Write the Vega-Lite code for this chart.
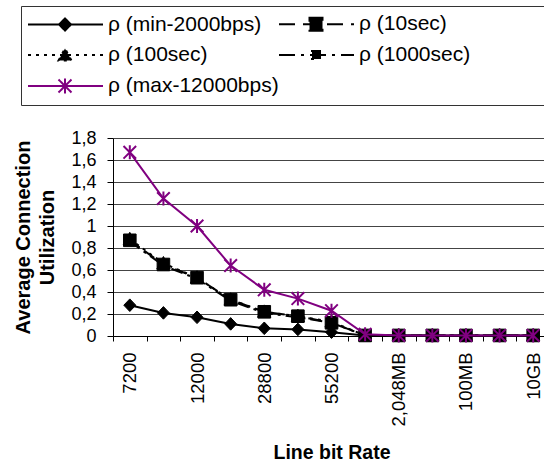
{
  "$schema": "https://vega.github.io/schema/vega-lite/v6.json",
  "autosize": {"type": "none"},
  "width": 431,
  "height": 198,
  "padding": {"left": 113, "top": 138, "right": 0, "bottom": 128},
  "background": "white",
  "config": {
    "font": "Liberation Sans",
    "view": {"stroke": null},
    "axis": {"labelFont": "Liberation Sans", "titleFont": "Liberation Sans", "labelColor": "black", "titleColor": "black", "domainColor": "black", "tickColor": "black"},
    "legend": {
      "labelFont": "Liberation Sans", "orient": "none", "legendX": -92, "legendY": -132, "columns": 2, "columnPadding": -6, "rowPadding": 9,
      "padding": 7, "strokeColor": "#333", "labelFontSize": 21, "labelColor": "black", "labelLimit": 400, "labelOffset": 58,
      "symbolSize": 400, "symbolStrokeWidth": 2, "symbolOpacity": 1
    }
  },
  "data": {
    "values": [
      {"rate": "7200", "series": "ρ (min-2000bps)", "value": 0.28},
      {"rate": "9600", "series": "ρ (min-2000bps)", "value": 0.21},
      {"rate": "12000", "series": "ρ (min-2000bps)", "value": 0.17},
      {"rate": "14400", "series": "ρ (min-2000bps)", "value": 0.11},
      {"rate": "28800", "series": "ρ (min-2000bps)", "value": 0.07},
      {"rate": "33600", "series": "ρ (min-2000bps)", "value": 0.06},
      {"rate": "55200", "series": "ρ (min-2000bps)", "value": 0.035},
      {"rate": "1,544MB", "series": "ρ (min-2000bps)", "value": 0.005},
      {"rate": "2,048MB", "series": "ρ (min-2000bps)", "value": 0.005},
      {"rate": "10MB", "series": "ρ (min-2000bps)", "value": 0.005},
      {"rate": "100MB", "series": "ρ (min-2000bps)", "value": 0.005},
      {"rate": "1GB", "series": "ρ (min-2000bps)", "value": 0.005},
      {"rate": "10GB", "series": "ρ (min-2000bps)", "value": 0.005},
      {"rate": "7200", "series": "ρ (10sec)", "value": 0.87},
      {"rate": "9600", "series": "ρ (10sec)", "value": 0.65},
      {"rate": "12000", "series": "ρ (10sec)", "value": 0.53},
      {"rate": "14400", "series": "ρ (10sec)", "value": 0.33},
      {"rate": "28800", "series": "ρ (10sec)", "value": 0.22},
      {"rate": "33600", "series": "ρ (10sec)", "value": 0.18},
      {"rate": "55200", "series": "ρ (10sec)", "value": 0.12},
      {"rate": "1,544MB", "series": "ρ (10sec)", "value": 0.005},
      {"rate": "2,048MB", "series": "ρ (10sec)", "value": 0.005},
      {"rate": "10MB", "series": "ρ (10sec)", "value": 0.005},
      {"rate": "100MB", "series": "ρ (10sec)", "value": 0.005},
      {"rate": "1GB", "series": "ρ (10sec)", "value": 0.005},
      {"rate": "10GB", "series": "ρ (10sec)", "value": 0.005},
      {"rate": "7200", "series": "ρ (100sec)", "value": 0.88},
      {"rate": "9600", "series": "ρ (100sec)", "value": 0.66},
      {"rate": "12000", "series": "ρ (100sec)", "value": 0.53},
      {"rate": "14400", "series": "ρ (100sec)", "value": 0.33},
      {"rate": "28800", "series": "ρ (100sec)", "value": 0.22},
      {"rate": "33600", "series": "ρ (100sec)", "value": 0.18},
      {"rate": "55200", "series": "ρ (100sec)", "value": 0.13},
      {"rate": "1,544MB", "series": "ρ (100sec)", "value": 0.005},
      {"rate": "2,048MB", "series": "ρ (100sec)", "value": 0.005},
      {"rate": "10MB", "series": "ρ (100sec)", "value": 0.005},
      {"rate": "100MB", "series": "ρ (100sec)", "value": 0.005},
      {"rate": "1GB", "series": "ρ (100sec)", "value": 0.005},
      {"rate": "10GB", "series": "ρ (100sec)", "value": 0.005},
      {"rate": "7200", "series": "ρ (1000sec)", "value": 0.86},
      {"rate": "9600", "series": "ρ (1000sec)", "value": 0.64},
      {"rate": "12000", "series": "ρ (1000sec)", "value": 0.52},
      {"rate": "14400", "series": "ρ (1000sec)", "value": 0.32},
      {"rate": "28800", "series": "ρ (1000sec)", "value": 0.21},
      {"rate": "33600", "series": "ρ (1000sec)", "value": 0.17},
      {"rate": "55200", "series": "ρ (1000sec)", "value": 0.12},
      {"rate": "1,544MB", "series": "ρ (1000sec)", "value": 0.005},
      {"rate": "2,048MB", "series": "ρ (1000sec)", "value": 0.005},
      {"rate": "10MB", "series": "ρ (1000sec)", "value": 0.005},
      {"rate": "100MB", "series": "ρ (1000sec)", "value": 0.005},
      {"rate": "1GB", "series": "ρ (1000sec)", "value": 0.005},
      {"rate": "10GB", "series": "ρ (1000sec)", "value": 0.005},
      {"rate": "7200", "series": "ρ (max-12000bps)", "value": 1.67},
      {"rate": "9600", "series": "ρ (max-12000bps)", "value": 1.25},
      {"rate": "12000", "series": "ρ (max-12000bps)", "value": 1.0},
      {"rate": "14400", "series": "ρ (max-12000bps)", "value": 0.64},
      {"rate": "28800", "series": "ρ (max-12000bps)", "value": 0.42},
      {"rate": "33600", "series": "ρ (max-12000bps)", "value": 0.34},
      {"rate": "55200", "series": "ρ (max-12000bps)", "value": 0.23},
      {"rate": "1,544MB", "series": "ρ (max-12000bps)", "value": 0.015},
      {"rate": "2,048MB", "series": "ρ (max-12000bps)", "value": 0.005},
      {"rate": "10MB", "series": "ρ (max-12000bps)", "value": 0.005},
      {"rate": "100MB", "series": "ρ (max-12000bps)", "value": 0.005},
      {"rate": "1GB", "series": "ρ (max-12000bps)", "value": 0.005},
      {"rate": "10GB", "series": "ρ (max-12000bps)", "value": 0.005}
    ]
  },
  "encoding": {
    "x": {
      "field": "rate", "type": "nominal", "bandPosition": 0.5,
      "scale": {"type": "band", "domain": ["7200","9600","12000","14400","28800","33600","55200","1,544MB","2,048MB","10MB","100MB","1GB","10GB"], "range": [0, 437], "paddingInner": 0, "paddingOuter": 0},
      "axis": {
        "title": "Line bit Rate", "titleFontSize": 19.5, "titleFontWeight": "bold", "titleY": 122, "titleBaseline": "alphabetic",
        "labelAngle": -90, "labelFontSize": 18.5, "labelPadding": 11, "tickSize": 5, "tickBand": "extent", "grid": false, "labelOverlap": false,
        "labelExpr": "indexof(['7200','12000','28800','55200','2,048MB','100MB','10GB'], datum.value) >= 0 ? datum.label : ''"
      }
    },
    "y": {
      "field": "value", "type": "quantitative",
      "scale": {"domain": [0, 1.8], "nice": false},
      "axis": {
        "title": ["Average Connection", "Utilization"], "titleFontSize": 20, "titleFontWeight": "bold",
        "titleX": -83.5, "titleY": 99, "titleAngle": -90, "titleAlign": "center", "titleBaseline": "alphabetic", "titleLineHeight": 24,
        "values": [0, 0.2, 0.4, 0.6, 0.8, 1, 1.2, 1.4, 1.6, 1.8],
        "labelExpr": "replace(format(datum.value, '.2~f'), '.', ',')",
        "labelFontSize": 18, "tickSize": 6, "labelPadding": 11, "grid": true, "gridColor": "#444"
      }
    }
  },
  "layer": [
    {
      "transform": [{"filter": "datum.series == 'ρ (min-2000bps)'"}],
      "mark": {"type": "line", "stroke": "black", "strokeWidth": 2}
    },
    {
      "transform": [{"filter": "datum.series == 'ρ (10sec)'"}],
      "mark": {"type": "line", "stroke": "black", "strokeWidth": 2, "strokeDash": [12, 6]}
    },
    {
      "transform": [{"filter": "datum.series == 'ρ (100sec)'"}],
      "mark": {"type": "line", "stroke": "black", "strokeWidth": 2, "strokeDash": [3, 5]}
    },
    {
      "transform": [{"filter": "datum.series == 'ρ (1000sec)'"}],
      "mark": {"type": "line", "stroke": "black", "strokeWidth": 2, "strokeDash": [12, 5, 3, 5]}
    },
    {
      "transform": [{"filter": "datum.series == 'ρ (min-2000bps)'"}],
      "mark": {"type": "point", "filled": true, "fill": "black", "stroke": "black", "strokeWidth": 1, "opacity": 1, "size": 144, "shape": "M-1,0L0,-1.05L1,0L0,1.05Z"}
    },
    {
      "transform": [{"filter": "datum.series == 'ρ (10sec)'"}],
      "mark": {"type": "point", "filled": true, "fill": "black", "stroke": "black", "strokeWidth": 1, "opacity": 1, "size": 144, "shape": "M-1.05,-1.05H1.05V1.05H-1.05Z"}
    },
    {
      "transform": [{"filter": "datum.series == 'ρ (100sec)'"}],
      "mark": {"type": "point", "filled": true, "fill": "black", "stroke": "black", "strokeWidth": 1, "opacity": 1, "size": 144, "shape": "M-1.1,0.9L0,-1.15L1.1,0.9Z"}
    },
    {
      "transform": [{"filter": "datum.series == 'ρ (1000sec)'"}],
      "mark": {"type": "point", "filled": true, "fill": "black", "stroke": "black", "strokeWidth": 1, "opacity": 1, "size": 144, "shape": "M-0.6,-0.6H0.6V0.6H-0.6Z"}
    },
    {
      "transform": [{"filter": "datum.series == 'ρ (max-12000bps)'"}],
      "mark": {"type": "line", "stroke": "#800080", "strokeWidth": 2}
    },
    {
      "transform": [{"filter": "datum.series == 'ρ (max-12000bps)'"}],
      "mark": {"type": "point", "filled": false, "stroke": "#800080", "strokeWidth": 2, "opacity": 1, "size": 196, "shape": "M0,-1V1M-0.9,-0.9L0.9,0.9M-0.9,0.9L0.9,-0.9"}
    },
    {
      "mark": {"type": "point", "filled": true, "opacity": 0},
      "encoding": {
        "shape": {
          "field": "series", "type": "nominal",
          "scale": {"domain": ["ρ (min-2000bps)", "ρ (100sec)", "ρ (max-12000bps)", "ρ (10sec)", "ρ (1000sec)"], "range": ["M-1.1,0H6.4M2,0L2.6,-0.6L3.2,0L2.6,0.6Z", "M-1.1,0H6.4M1.95,0.55L2.6,-0.65L3.25,0.55Z", "M-1.1,0H6.4M2.6,-0.75V0.75M1.95,-0.65L3.25,0.65M1.95,0.65L3.25,-0.65", "M-1.1,0H6.4M1.95,-0.65H3.25V0.65H1.95Z", "M-1.1,0H6.4M2.2,-0.4H3V0.4H2.2Z"]},
          "legend": {"title": null, "labelExpr": "datum.value == 'ρ (1000sec)' ? datum.label + '            \u200b' : datum.label"}
        },
        "fill": {
          "field": "series", "type": "nominal",
          "scale": {"domain": ["ρ (min-2000bps)", "ρ (100sec)", "ρ (max-12000bps)", "ρ (10sec)", "ρ (1000sec)"], "range": ["black", "black", "transparent", "black", "black"]},
          "legend": {"title": null}
        },
        "stroke": {
          "field": "series", "type": "nominal",
          "scale": {"domain": ["ρ (min-2000bps)", "ρ (100sec)", "ρ (max-12000bps)", "ρ (10sec)", "ρ (1000sec)"], "range": ["black", "black", "#800080", "black", "black"]},
          "legend": {"title": null}
        },
        "strokeDash": {
          "field": "series", "type": "nominal",
          "scale": {"domain": ["ρ (min-2000bps)", "ρ (100sec)", "ρ (max-12000bps)", "ρ (10sec)", "ρ (1000sec)"], "range": [[1, 0], [3, 5], [1, 0], [16, 8], [16, 6, 3, 6]]},
          "legend": {"title": null}
        }
      }
    }
  ]
}
